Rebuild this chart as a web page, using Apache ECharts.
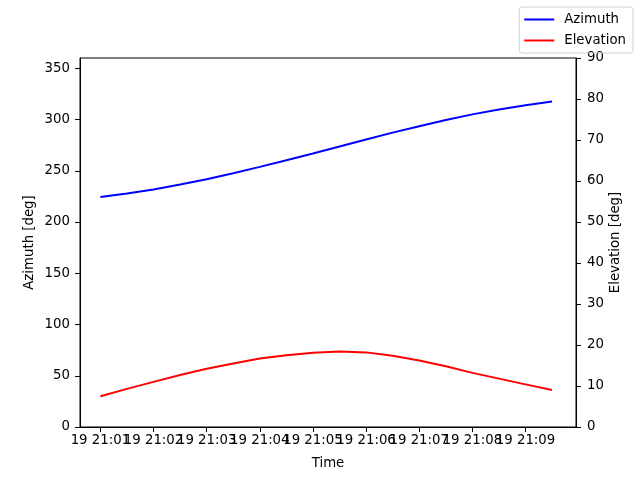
<!DOCTYPE html>
<html>
<head>
<meta charset="utf-8">
<script src="https://cdn.jsdelivr.net/npm/echarts@6/dist/echarts.min.js"></script>
<style>
  html, body { margin: 0; padding: 0; background: #fff; }
  #chart { width: 640px; height: 480px; }
</style>
</head>
<body>
<div id="chart"></div>
<script>
// horários das amostras (dia 19), a cada 30 s
const times = [
    '21:01:00', '21:01:30', '21:02:00', '21:02:30', '21:03:00', '21:03:30',
    '21:04:00', '21:04:30', '21:05:00', '21:05:30', '21:06:00', '21:06:30',
    '21:07:00', '21:07:30', '21:08:00', '21:08:30', '21:09:00', '21:09:30'
];
const azimuth = [
    224.5, 227.8, 231.8, 236.5, 241.8, 247.6,
    253.8, 260.2, 266.8, 273.7, 280.5, 287.2,
    293.5, 299.5, 305.0, 309.8, 313.8, 317.6
];
const elevation = [
    7.5, 9.3, 11.0, 12.7, 14.2, 15.5,
    16.7, 17.5, 18.1, 18.4, 18.2, 17.4,
    16.2, 14.8, 13.2, 11.8, 10.4, 9.0
];
// ticks do eixo X (segundos desde 21:00)
const timeTicks = [60, 120, 180, 240, 300, 360, 420, 480, 540];
const azTicks = [0, 50, 100, 150, 200, 250, 300, 350];
const dayLabel = '19';

// converte 'HH:MM:SS' em segundos desde 21:00
function toSeconds(t) {
    const p = t.split(':').map(Number);
    return (p[0] - 21) * 3600 + p[1] * 60 + p[2];
}

function tickLabel(sec) {
    const m = Math.round(sec / 60);
    return dayLabel + ' 21:' + String(m).padStart(2, '0');
}

const font = 'DejaVu Sans';
const fs = 13.3;

// os rótulos se sobrepõem (como no original); divide em dois eixos
// para o ECharts não esconder nenhum deles
const oddTicks = timeTicks.filter((v, i) => i % 2 === 0);
const evenTicks = timeTicks.filter((v, i) => i % 2 === 1);

const xLabel = (vals) => ({
    customValues: vals,
    hideOverlap: false,
    margin: 7,
    fontFamily: font, fontSize: fs, color: '#000',
    formatter: v => tickLabel(v)
});

const chart = echarts.init(document.getElementById('chart'));

const option = {
    animation: false,
    textStyle: { fontFamily: font, color: '#000' },
    grid: {
        left: 80, right: 64, top: 58, bottom: 53,
        show: true, borderColor: '#000', borderWidth: 1
    },
    legend: {
        orient: 'vertical',
        right: 7,
        top: 7,
        padding: [6, 7, 6, 5],
        itemGap: 8,
        itemWidth: 30,
        itemHeight: 2,
        icon: 'rect',
        borderColor: '#d0d0d0',
        borderWidth: 1,
        borderRadius: 3,
        textStyle: { fontFamily: font, fontSize: fs, color: '#000', padding: [0, 0, 0, 5] },
        data: ['Azimuth', 'Elevation']
    },
    xAxis: [
        {
            type: 'value',
            min: 37,
            max: 597,
            name: 'Time',
            nameLocation: 'middle',
            nameGap: 30,
            nameMoveOverlap: false,
            nameTextStyle: { fontFamily: font, fontSize: fs, color: '#000' },
            axisLine: { lineStyle: { color: '#000', width: 1 } },
            axisTick: { show: true, length: 5, lineStyle: { color: '#000' }, customValues: timeTicks },
            axisLabel: xLabel(oddTicks),
            splitLine: { show: false }
        },
        {
            type: 'value',
            min: 37,
            max: 597,
            position: 'bottom',
            offset: 0,
            axisLine: { show: false },
            axisTick: { show: false },
            axisLabel: xLabel(evenTicks),
            splitLine: { show: false }
        }
    ],
    yAxis: [
        {
            type: 'value',
            min: 0,
            max: 360,
            name: 'Azimuth [deg]',
            nameLocation: 'middle',
            nameRotate: 90,
            nameGap: 44,
            nameMoveOverlap: false,
            nameTextStyle: { fontFamily: font, fontSize: fs, color: '#000' },
            axisLine: { show: true, lineStyle: { color: '#000', width: 1 } },
            axisTick: { show: true, length: 5, lineStyle: { color: '#000' }, customValues: azTicks },
            axisLabel: { customValues: azTicks, margin: 10, fontFamily: font, fontSize: fs, color: '#000' },
            splitLine: { show: false }
        },
        {
            type: 'value',
            min: 0,
            max: 90,
            interval: 10,
            position: 'right',
            name: 'Elevation [deg]',
            nameLocation: 'middle',
            nameRotate: 90,
            nameGap: 33,
            nameMoveOverlap: false,
            nameTextStyle: { fontFamily: font, fontSize: fs, color: '#000' },
            axisLine: { show: true, lineStyle: { color: '#000', width: 1 } },
            axisTick: { show: true, length: 5, lineStyle: { color: '#000' } },
            axisLabel: { margin: 11, fontFamily: font, fontSize: fs, color: '#000' },
            splitLine: { show: false }
        }
    ],
    series: [
        {
            name: 'Azimuth',
            type: 'line',
            xAxisIndex: 0,
            yAxisIndex: 0,
            symbol: 'none',
            lineStyle: { color: '#0000ff', width: 2 },
            itemStyle: { color: '#0000ff' },
            data: times.map((t, i) => [toSeconds(t), azimuth[i]])
        },
        {
            name: 'Elevation',
            type: 'line',
            xAxisIndex: 0,
            yAxisIndex: 1,
            symbol: 'none',
            lineStyle: { color: '#ff0000', width: 2 },
            itemStyle: { color: '#ff0000' },
            data: times.map((t, i) => [toSeconds(t), elevation[i]])
        }
    ]
};

chart.setOption(option);
</script>
</body>
</html>
